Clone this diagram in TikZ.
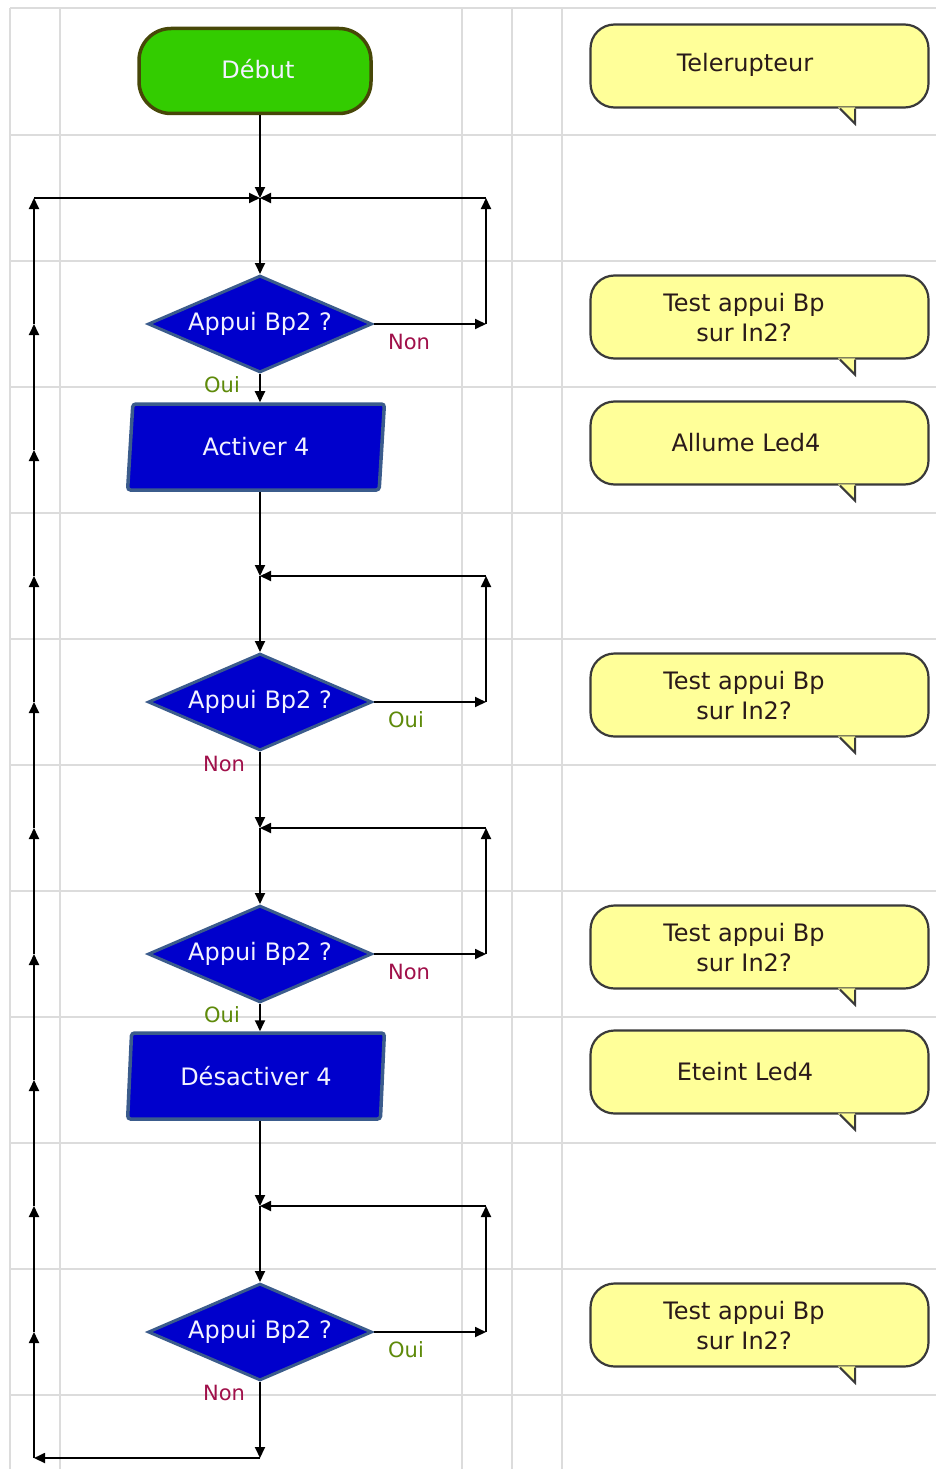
\documentclass[tikz,border=0pt]{standalone}
\usepackage{fontspec}
\setmainfont{DejaVu Sans}
\usetikzlibrary{shapes.geometric,arrows.meta}
\definecolor{gridc}{HTML}{DCDCDC}
\definecolor{startfill}{HTML}{33CC00}
\definecolor{startdraw}{HTML}{474708}
\definecolor{bluefill}{HTML}{0000CC}
\definecolor{bluedraw}{HTML}{3B5C8C}
\definecolor{notefillc}{HTML}{FFFF99}
\definecolor{notedrawc}{HTML}{3A3A3A}
\definecolor{nonc}{HTML}{A0104A}
\definecolor{ouic}{HTML}{5E8A0A}
\definecolor{whitetext}{HTML}{F2F2FF}
\definecolor{notetextc}{HTML}{2A1A1A}
\newcommand\calltail[1]{%
  \fill[notefillc] ([shift={(78.5,-1.3)}]#1.south) -- ([shift={(95.5,15)}]#1.south) -- ([shift={(95.5,-1.3)}]#1.south) -- cycle;
  \draw[notedrawc,line width=2pt,line join=miter] ([shift={(80.5,0)}]#1.south) -- ([shift={(95.5,15)}]#1.south) -- ([shift={(95.5,0)}]#1.south);
}
\begin{document}
\begin{tikzpicture}[x=1pt,y=-1pt,
  conn/.style={-{Triangle[length=11pt,width=10pt]},line width=1.8pt,black},
  startbox/.style={rectangle,rounded corners=32pt,minimum width=232pt,minimum height=85pt,
    fill=startfill,draw=startdraw,line width=3.5pt,text=whitetext,font=\fontsize{24}{28}\selectfont},
  decision/.style={diamond,shape aspect=2.3,minimum width=224pt,minimum height=97pt,inner sep=0pt,
    fill=bluefill,draw=bluedraw,line width=3pt,text=whitetext,font=\fontsize{24}{28}\selectfont},
  action/.style={trapezium,trapezium left angle=83,trapezium right angle=97,trapezium stretches=true,
    minimum width=257pt,minimum height=86pt,inner sep=0pt,rounded corners=3pt,
    fill=bluefill,draw=bluedraw,line width=3.5pt,text=whitetext,font=\fontsize{24}{28}\selectfont},
  note/.style={rectangle,rounded corners=24pt,minimum width=338pt,minimum height=83pt,
    fill=notefillc,draw=notedrawc,line width=2.2pt},
  notetext/.style={align=center,text=notetextc,font=\fontsize{24}{30}\selectfont},
  nonlbl/.style={text=nonc,font=\fontsize{21}{24}\selectfont,inner sep=0pt},
  ouilbl/.style={text=ouic,font=\fontsize{21}{24}\selectfont,inner sep=0pt}
]
\useasboundingbox (0,0) rectangle (936,1469);
\fill[white] (0,0) rectangle (936,1469);
% grid
\foreach \yy in {8,135,261,387,513,639,765,891,1017,1143,1269,1395}
  \draw[gridc,line width=2pt] (10,\yy) -- (936,\yy);
\foreach \xx in {10,60,462,512,562}
  \draw[gridc,line width=2pt] (\xx,8) -- (\xx,1469);

% flow nodes
\node[startbox] (debut) at (255,71) {};
\node[text=whitetext,font=\fontsize{24}{28}\selectfont] (debuttxt) at (258,69) {Début};
\node[decision] (d1) at (260,324) {Appui Bp2 ?};
\node[action] (a1) at (256,447) {Activer 4};
\node[decision] (d2) at (260,702) {Appui Bp2 ?};
\node[decision] (d3) at (260,954) {Appui Bp2 ?};
\node[action] (a2) at (256,1076) {Désactiver 4};
\node[decision] (d4) at (260,1332) {Appui Bp2 ?};

% junctions
\coordinate (j1) at (260,198);
\coordinate (j2) at (260,576);
\coordinate (j3) at (260,828);
\coordinate (j4) at (260,1206);
\coordinate (r1a) at (486,324); \coordinate (r1b) at (486,198);
\coordinate (r2a) at (486,702); \coordinate (r2b) at (486,576);
\coordinate (r3a) at (486,954); \coordinate (r3b) at (486,828);
\coordinate (r4a) at (486,1332); \coordinate (r4b) at (486,1206);
\coordinate (bot) at (260,1458);
\coordinate (lbot) at (34,1458);

% labels
\node[nonlbl] (n1) at (409,342) {Non};
\node[ouilbl] (o1) at (222,385) {Oui};
\node[ouilbl] (o2) at (406,720) {Oui};
\node[nonlbl] (n2) at (224,764) {Non};
\node[nonlbl] (n3) at (409,972) {Non};
\node[ouilbl] (o3) at (222,1015) {Oui};
\node[ouilbl] (o4) at (406,1350) {Oui};
\node[nonlbl] (n4) at (224,1393) {Non};

% main flow
\draw[conn] (j1 |- debut.south) -- (j1);
\draw[conn] (j1) -- (d1.north);
\draw[conn] (d1.south) -- (d1.south |- a1.north);
\draw[conn] (d1.south |- a1.south) -- (j2);
\draw[conn] (j2) -- (d2.north);
\draw[conn] (d2.south) -- (j3);
\draw[conn] (j3) -- (d3.north);
\draw[conn] (d3.south) -- (d3.south |- a2.north);
\draw[conn] (d3.south |- a2.south) -- (j4);
\draw[conn] (j4) -- (d4.north);
\draw[conn] (d4.south) -- (bot);
\draw[conn] (bot) -- (lbot);

% right loops
\draw[conn] (d1.east) -- (r1a); \draw[conn] (r1a) -- (r1b); \draw[conn] (r1b) -- (j1);
\draw[conn] (d2.east) -- (r2a); \draw[conn] (r2a) -- (r2b); \draw[conn] (r2b) -- (j2);
\draw[conn] (d3.east) -- (r3a); \draw[conn] (r3a) -- (r3b); \draw[conn] (r3b) -- (j3);
\draw[conn] (d4.east) -- (r4a); \draw[conn] (r4a) -- (r4b); \draw[conn] (r4b) -- (j4);

% left return line, segmented
\foreach \k in {0,...,10} {
  \coordinate (L\k) at (34,{1458-126*\k});
}
\foreach \k [evaluate=\k as \kn using int(\k+1)] in {0,...,9} {
  \draw[conn] (L\k) -- (L\kn);
}
\draw[conn] (L10) -- (j1);

% callouts
\node[note] (c1) at (759.5,66) {};
\node[note] (c2) at (759.5,317) {};
\node[note] (c3) at (759.5,443) {};
\node[note] (c4) at (759.5,695) {};
\node[note] (c5) at (759.5,947) {};
\node[note] (c6) at (759.5,1072) {};
\node[note] (c7) at (759.5,1325) {};
\calltail{c1}\calltail{c2}\calltail{c3}\calltail{c4}\calltail{c5}\calltail{c6}\calltail{c7}
\node[notetext] (t1) at (745,65) {Telerupteur};
\node[notetext] (t2) at (744,318) {Test appui Bp\\sur In2?};
\node[notetext] (t3) at (746,443) {Allume Led4};
\node[notetext] (t4) at (744,696) {Test appui Bp\\sur In2?};
\node[notetext] (t5) at (744,948) {Test appui Bp\\sur In2?};
\node[notetext] (t6) at (745,1072) {Eteint Led4};
\node[notetext] (t7) at (744,1326) {Test appui Bp\\sur In2?};
\end{tikzpicture}
\end{document}
